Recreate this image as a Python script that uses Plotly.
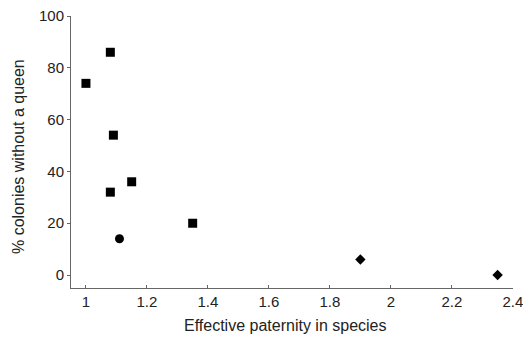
import plotly.graph_objects as go

sq_x = [1.0, 1.08, 1.09, 1.08, 1.15, 1.35]
sq_y = [74, 86, 54, 32, 36, 20]
ci_x = [1.11]
ci_y = [14]
di_x = [1.9, 2.35]
di_y = [6, 0]
x_ticks = [1, 1.2, 1.4, 1.6, 1.8, 2, 2.2, 2.4]
x_tick_labels = ["1", "1.2", "1.4", "1.6", "1.8", "2", "2.2", "2.4"]
y_ticks = [0, 20, 40, 60, 80, 100]
x_title = "Effective paternity in species"
y_title = "% colonies without a queen"

fig = go.Figure()
fig.add_trace(go.Scatter(x=sq_x, y=sq_y, mode="markers",
                         marker=dict(symbol="square", size=9, color="black")))
fig.add_trace(go.Scatter(x=ci_x, y=ci_y, mode="markers",
                         marker=dict(symbol="circle", size=9, color="black")))
fig.add_trace(go.Scatter(x=di_x, y=di_y, mode="markers",
                         marker=dict(symbol="diamond", size=8, color="black")))

font_family = "Liberation Sans, Arial, sans-serif"
fig.update_layout(
    width=523, height=338,
    margin=dict(l=71, r=10, t=16, b=50, autoexpand=False),
    plot_bgcolor="white", paper_bgcolor="white",
    showlegend=False,
    font=dict(family=font_family, size=15, color="#222"),
    xaxis=dict(range=[0.951, 2.4005], tickvals=x_ticks, ticktext=x_tick_labels,
               showgrid=False, zeroline=False, showline=True, linecolor="#666",
               linewidth=1, ticks="inside", ticklen=3, tickcolor="#666",
               automargin=False, ticklabeloverflow="allow"),
    yaxis=dict(range=[-5, 100], tickvals=y_ticks,
               showgrid=False, zeroline=False, showline=True, linecolor="#666",
               linewidth=1, ticks="outside", ticklen=3, tickcolor="#666",
               automargin=False),
    annotations=[
        dict(text=x_title, xref="paper", yref="paper", x=0.485, y=-0.1,
             xanchor="center", yanchor="top", showarrow=False,
             font=dict(size=16, color="#222")),
        dict(text=y_title, xref="paper", yref="paper", x=-0.12, y=0.485,
             xanchor="center", yanchor="middle", showarrow=False, textangle=-90,
             font=dict(size=16, color="#222")),
    ],
)
fig.write_html("out.html", config={"displayModeBar": False},
               post_script="document.body.style.margin='0';document.body.style.padding='0';")
